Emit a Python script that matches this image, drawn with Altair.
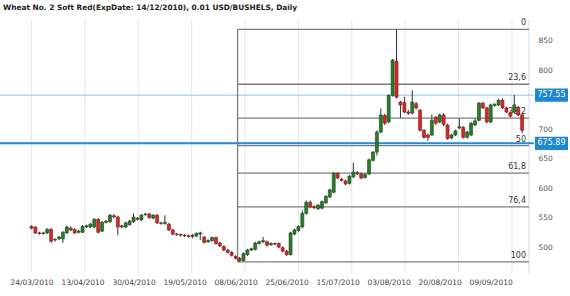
import altair as alt
import pandas as pd

title_text = "Wheat  No. 2 Soft Red(ExpDate: 14/12/2010), 0.01 USD/BUSHELS, Daily"

opens = [535, 534, 524, 523, 524, 530, 512, 514, 514, 524, 532, 530, 525, 525, 534, 534, 534, 547, 527, 542,
         543, 553, 551, 534, 534, 538, 543, 549, 546, 555, 556, 549, 554, 541, 540, 539, 529, 522, 521, 520,
         519, 518, 519, 522, 517, 509, 511, 516, 507, 501, 495, 491, 484, 481, 477, 487, 495, 496, 506, 509,
         509, 504, 506, 506, 499, 493, 487, 522, 528, 534, 557, 576, 568, 565, 566, 575, 585, 593, 625, 615,
         612, 608, 619, 626, 624, 618, 624, 647, 661, 695, 723, 712, 757, 815, 746, 745, 729, 727, 743, 732,
         698, 690, 690, 720, 712, 724, 707, 685, 690, 702, 703, 686, 690, 707, 715, 744, 736, 712, 740, 741,
         749, 736, 728, 729, 737, 724]
highs = [537, 535, 526, 526, 532, 532, 515, 519, 527, 536, 535, 532, 529, 537, 538, 541, 549, 549, 544, 546,
         556, 556, 553, 538, 543, 546, 557, 551, 556, 558, 558, 556, 556, 543, 554, 541, 531, 524, 523, 522,
         521, 522, 525, 526, 519, 513, 518, 518, 509, 503, 497, 493, 486, 483, 491, 497, 499, 509, 511, 517,
         511, 508, 508, 508, 501, 495, 526, 531, 537, 562, 579, 579, 571, 573, 579, 588, 599, 627, 627, 617,
         614, 622, 643, 629, 626, 625, 650, 663, 698, 735, 726, 759, 819, 869, 748, 755, 733, 766, 746, 734,
         700, 692, 725, 722, 726, 727, 709, 692, 699, 718, 705, 697, 712, 718, 746, 746, 738, 743, 744, 751,
         752, 738, 730, 758, 739, 726]
lows = [530, 522, 521, 521, 522, 507, 509, 512, 507, 522, 527, 522, 523, 524, 532, 532, 532, 523, 525, 540,
        541, 549, 520, 532, 532, 536, 541, 545, 544, 553, 548, 547, 539, 538, 538, 527, 520, 519, 518, 517,
        516, 515, 517, 512, 506, 507, 509, 504, 500, 493, 489, 484, 479, 475, 476, 485, 493, 494, 504, 507,
        501, 502, 503, 498, 491, 485, 486, 520, 526, 532, 555, 566, 564, 563, 564, 573, 583, 591, 615, 611,
        605, 606, 617, 622, 615, 616, 622, 645, 655, 693, 707, 710, 755, 752, 719, 727, 724, 725, 733, 696,
        684, 680, 688, 707, 710, 705, 682, 683, 688, 700, 684, 684, 688, 705, 713, 734, 710, 710, 738, 739,
        734, 727, 720, 727, 722, 693]
closes = [532, 524, 523, 524, 530, 510, 513, 517, 525, 534, 529, 524, 527, 535, 536, 539, 547, 525, 542, 544,
          554, 551, 534, 536, 541, 544, 551, 547, 554, 556, 550, 554, 541, 540, 542, 529, 522, 521, 520, 519,
          518, 520, 523, 524, 508, 511, 516, 506, 502, 495, 491, 486, 481, 477, 489, 495, 497, 507, 509, 511,
          503, 506, 505, 500, 493, 487, 524, 529, 535, 557, 576, 568, 567, 571, 577, 586, 597, 625, 617, 613,
          607, 620, 627, 624, 617, 623, 648, 661, 695, 724, 710, 757, 817, 754, 741, 729, 727, 746, 736, 698,
          686, 686, 715, 710, 724, 708, 684, 690, 697, 704, 686, 695, 710, 714, 744, 736, 712, 741, 742, 749,
          736, 729, 722, 741, 724, 698]

date_labels = ["24/03/2010", "13/04/2010", "30/04/2010", "19/05/2010", "08/06/2010",
               "25/06/2010", "15/07/2010", "03/08/2010", "20/08/2010", "09/09/2010"]
label_step = 13          # trading days between date labels
grid_step = 13.6         # trading days between vertical grid lines
y_ticks = [500, 550, 600, 650, 700, 800, 850]

fib_pcts = [0, 23.6, 38.2, 50, 61.8, 76.4, 100]
fib_names = ["0", "23,6", "38,2", "50", "61,8", "76,4", "100"]

level_values = [757.55, 675.89]
level_names = ["757.55", "675.89"]

x_domain = [-6.75, 126.75]
y_domain = [456, 885]

FONT = "DejaVu Sans"

candles = pd.DataFrame({
    "idx": list(range(len(opens))),
    "open": opens, "high": highs, "low": lows, "close": closes,
})

hi = max(highs)
lo = min(lows)
fib_start = lows.index(lo) - 0.5
fib = pd.DataFrame({
    "pct": fib_pcts,
    "name": fib_names,
    "level": [hi - p / 100.0 * (hi - lo) for p in fib_pcts],
    "x0": fib_start,
    "x1": x_domain[1],
})
fib_vert = pd.DataFrame({"x": [fib_start], "lo": [lo], "hi": [hi]})

grid = pd.DataFrame({"g": [k * grid_step for k in range(len(date_labels))]})
border = pd.DataFrame({"g": [x_domain[1]]})
levels = pd.DataFrame({"v": level_values, "name": level_names, "w": [1, 2],
                       "c": ["#8cc6ea", "#2389d6"]})

xs = alt.Scale(domain=x_domain, nice=False, zero=False)
ys = alt.Scale(domain=y_domain, nice=False, zero=False)

label_expr = "[" + ",".join("'%s'" % d for d in date_labels) + "][round(datum.value/%d)]" % label_step

x_axis = alt.Axis(values=[k * label_step for k in range(len(date_labels))], labelExpr=label_expr,
                  grid=False, ticks=False, domain=False, title=None, labelFont=FONT, labelFontSize=7.5,
                  labelColor="#444444", labelPadding=5, labelOverlap=False, labelFlush=False)
y_axis = alt.Axis(orient="right", values=y_ticks, grid=False, ticks=False, domain=False, title=None,
                  labelFont=FONT, labelFontSize=7.5, labelColor="#555555", labelPadding=4)


def X(field):
    return alt.X(field, scale=xs, axis=x_axis)


def Y(field):
    return alt.Y(field, scale=ys, axis=y_axis)


grid_layer = alt.Chart(grid).mark_rule(color="#dfe8f0", strokeWidth=1).encode(x=X("g:Q"))
border_layer = alt.Chart(border).mark_rule(color="#cfdbe6", strokeWidth=1).encode(x=X("g:Q"))

level_lines = alt.Chart(levels).mark_rule().encode(
    y=Y("v:Q"),
    color=alt.Color("c:N", scale=None),
    strokeWidth=alt.StrokeWidth("w:Q", scale=None))

fib_lines = alt.Chart(fib).mark_rule(color="#7d7d7d", strokeWidth=1.3).encode(
    x=X("x0:Q"), x2="x1:Q", y=Y("level:Q"))
fib_v = alt.Chart(fib_vert).mark_rule(color="#7d7d7d", strokeWidth=1.3).encode(
    x=X("x:Q"), y=Y("lo:Q"), y2="hi:Q")
fib_text = alt.Chart(fib).mark_text(align="right", baseline="bottom", dx=-3, dy=-2,
                                    font=FONT, fontSize=8, color="#333333").encode(
    x=X("x1:Q"), y=Y("level:Q"), text="name:N")

up = "datum.close >= datum.open"
wicks = alt.Chart(candles).mark_rule(color="#333333", strokeWidth=1).encode(
    x=X("idx:Q"), y=Y("low:Q"), y2="high:Q")
bodies = alt.Chart(candles).mark_bar(size=3, strokeWidth=0.6).encode(
    x=X("idx:Q"), y=Y("open:Q"), y2="close:Q",
    fill=alt.condition(up, alt.value("#2c7a2c"), alt.value("#d42a2a")),
    stroke=alt.condition(up, alt.value("#174417"), alt.value("#7e1515")))

box_shape = "M-1,-0.4H1V0.4H-1Z"
boxes = alt.Chart(levels).mark_point(shape=box_shape, size=1089, filled=True, opacity=1,
                                     color="#1d87d3").encode(
    x=alt.value(551.5), y=Y("v:Q"))
box_text = alt.Chart(levels).mark_text(color="white", font=FONT, fontSize=8, align="center",
                                       baseline="middle").encode(
    x=alt.value(551.5), y=Y("v:Q"), text="name:N")

chart = alt.layer(
    grid_layer, border_layer, level_lines, fib_lines, fib_v, fib_text, wicks, bodies, boxes, box_text
).properties(
    width=534, height=253,
    autosize=alt.AutoSizeParams(type="none"),
    padding={"left": 0, "top": 20, "right": 36, "bottom": 23},
    title=alt.TitleParams(title_text, anchor="start", font=FONT, fontSize=7.4, fontWeight="bold",
                          color="#222222", offset=8, dx=4),
    background="white",
).configure_view(stroke=None)

chart.save("out.html", embed_options={"renderer": "svg", "actions": False})
